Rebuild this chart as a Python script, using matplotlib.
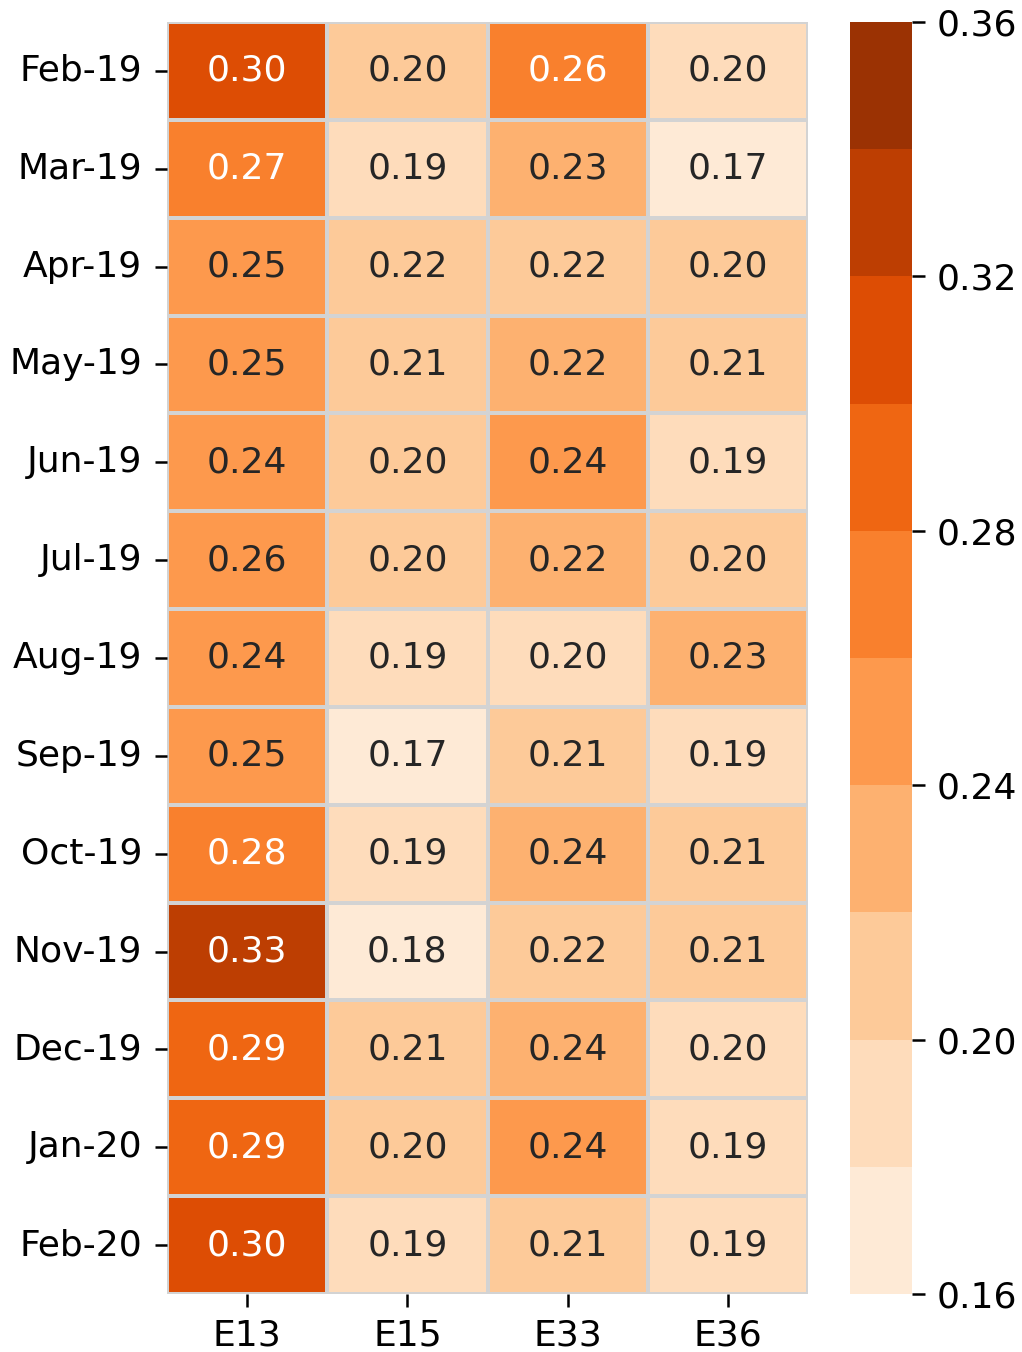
import matplotlib
matplotlib.use("Agg")
import matplotlib.pyplot as plt
import seaborn as sns
import numpy as np
import pandas as pd
from matplotlib.colors import ListedColormap

months = ["Feb-19", "Mar-19", "Apr-19", "May-19", "Jun-19", "Jul-19", "Aug-19",
          "Sep-19", "Oct-19", "Nov-19", "Dec-19", "Jan-20", "Feb-20"]
stations = ["E13", "E15", "E33", "E36"]

E13 = [0.302, 0.272, 0.248, 0.248, 0.242, 0.258, 0.242, 0.248, 0.278, 0.332, 0.292, 0.288, 0.302]
E15 = [0.205, 0.188, 0.218, 0.212, 0.202, 0.203, 0.192, 0.172, 0.188, 0.178, 0.208, 0.202, 0.192]
E33 = [0.262, 0.232, 0.218, 0.222, 0.242, 0.222, 0.197, 0.208, 0.238, 0.218, 0.238, 0.242, 0.208]
E36 = [0.197, 0.172, 0.203, 0.208, 0.192, 0.202, 0.228, 0.188, 0.212, 0.208, 0.197, 0.192, 0.188]

cbar_ticks = [0.16, 0.20, 0.24, 0.28, 0.32, 0.36]

df = pd.DataFrame({"E13": E13, "E15": E15, "E33": E33, "E36": E36}, index=months)[stations]

W, H = 1022, 1352
fig = plt.figure(figsize=(W / 100, H / 100), dpi=100)
ax = fig.add_axes([167 / W, (H - 1294) / H, (808 - 167) / W, (1294 - 22) / H])
cax = fig.add_axes([850 / W, (H - 1294) / H, (912 - 850) / W, (1294 - 22) / H])

cmap = ListedColormap(sns.color_palette("Oranges", 10))
sns.heatmap(df, ax=ax, cbar_ax=cax, cmap=cmap, vmin=0.16, vmax=0.36,
            annot=True, fmt=".2f", annot_kws={"fontsize": 26},
            linewidths=1.5, linecolor="lightgray",
            cbar_kws={"ticks": cbar_ticks})

ax.tick_params(axis="both", labelsize=26, length=9, width=1.8, pad=9)
ax.set_yticklabels(months, rotation=0)
ax.set_xticklabels(stations, rotation=0)
ax.set_xlabel("")
ax.set_ylabel("")

cax.tick_params(labelsize=26, length=9, width=1.8, pad=9)
cax.set_yticklabels([f"{t:.2f}" for t in cbar_ticks])
cbar = ax.collections[0].colorbar
cbar.outline.set_visible(False)

fig.savefig("out.png", dpi=100)
